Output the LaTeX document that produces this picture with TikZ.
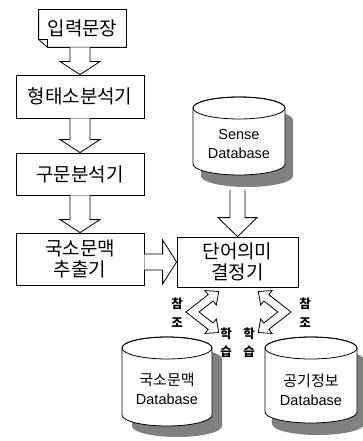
\documentclass[tikz,border=0pt]{standalone}
\usepackage{fontspec}
\usetikzlibrary{calc}
\newfontfamily\kr{Noto Sans CJK KR}
\newfontfamily\lat{Liberation Sans}
\newcommand\vblk[5]{% start, tip, shaft half, head half, head length
  \draw[blk] ($(#2 |- #1)+(-#3,0)$) -- ($(#2)+(-#3,-#5)$) -- ($(#2)+(-#4,-#5)$) -- (#2)
    -- ($(#2)+(#4,-#5)$) -- ($(#2)+(#3,-#5)$) -- ($(#2 |- #1)+(#3,0)$);}
\newcommand\dbcyl[7]{% cx rx ytop ybot ry sx sy
  \fill[black!50,shift={(#6,#7)}] (#1-#2,#3) -- (#1-#2,#4)
    arc[start angle=180,end angle=360,x radius=#2pt,y radius=#5pt] -- (#1+#2,#3)
    arc[start angle=0,end angle=180,x radius=#2pt,y radius=#5pt] -- cycle;
  \draw[cyl] (#1-#2,#3) -- (#1-#2,#4)
    arc[start angle=180,end angle=360,x radius=#2pt,y radius=#5pt] -- (#1+#2,#3)
    arc[start angle=0,end angle=180,x radius=#2pt,y radius=#5pt] -- cycle;
  \draw[line width=0.8pt] (#1,#3) ellipse[x radius=#2pt,y radius=#5pt];}
\begin{document}
\begin{tikzpicture}[x=1pt,y=-1pt,
  box/.style={draw, line width=0.8pt, inner sep=0pt, align=center,
    font=\kr\fontsize{19}{21}\selectfont},
  blk/.style={draw, fill=white, line width=0.8pt, line join=miter},
  cyl/.style={draw, fill=white, line width=0.8pt},
  dbtext/.style={align=center, inner sep=0pt, font=\lat\fontsize{14.5}{19}\selectfont},
  lbl/.style={inner sep=0pt, font=\kr\bfseries\fontsize{12.5}{13}\selectfont},
  chev/.style={draw, fill=white, line width=0.8pt, line join=miter}]
\useasboundingbox (0,0) rectangle (363,441);

% input document box
\node[box, draw=none, minimum width=87pt, minimum height=37pt] (in) at (82.5,28.5) {입력문장};
\draw[line width=0.8pt] (in.north west) -- (in.north east) -- (in.south east)
  -- ($(in.south west)+(9,0)$) -- ($(in.south west)+(0,-8)$) -- cycle;
\draw[line width=0.8pt] ($(in.south west)+(0,-8)$) -- ($(in.south west)+(9,-8)$) -- ($(in.south west)+(9,0)$);

\node[box, minimum width=128pt, minimum height=43pt] (morph) at (80,96.5) {형태소분석기};
\node[box, minimum width=128pt, minimum height=42pt] (parse) at (80,174) {구문분석기};
\node[box, minimum width=128pt, minimum height=52pt] (ext) at (80,259) {국소문맥\\추출기};
\node[box, minimum width=121pt, minimum height=50pt] (wsd) at (237.5,262) {단어의미\\결정기};

% databases
\dbcyl{239}{46}{108}{164}{11}{8}{12}
\node[dbtext] (sense) at (239,144.5) {Sense\\Database};
\dbcyl{167}{45}{348}{415}{11}{10}{11}
\node[dbtext] (kdb) at (167,389) {{\kr\fontsize{15}{19}\selectfont 국소문맥}\\Database};
\dbcyl{311}{46}{348}{412}{11}{7}{12}
\node[dbtext] (cdb) at (311,390) {{\kr\fontsize{15}{19}\selectfont 공기정보}\\Database};
\coordinate (senseb) at (237.5,190);

% block arrows
\vblk{in.south}{morph.north}{10}{20}{13}
\vblk{morph.south}{parse.north}{10}{20}{13}
\vblk{parse.south}{ext.north}{10}{20}{13}
\vblk{senseb}{wsd.north}{7.5}{19.5}{19}
\draw[blk] ($(wsd.west -| ext.east)+(0,-8)$) -- ($(wsd.west)+(-14,-8)$) -- ($(wsd.west)+(-14,-22)$)
  -- (wsd.west) -- ($(wsd.west)+(-14,22)$) -- ($(wsd.west)+(-14,8)$) -- ($(wsd.west -| ext.east)+(0,8)$);

% bent double arrows
\begin{scope}[shift={(192.5,312)}, scale=1.15]
\draw[chev] (-5.68,0) -- (13.60,15.08) -- (10.83,18.62) -- (22.85,17.86) -- (20.69,6.02) -- (17.92,9.56)
  -- (5.68,0) -- (17.92,-9.56) -- (20.69,-6.02) -- (22.85,-17.86) -- (10.83,-18.62) -- (13.60,-15.08) -- cycle;
\end{scope}
\begin{scope}[shift={(284.5,312)}, xscale=-1.15, yscale=1.15]
\draw[chev] (-5.68,0) -- (13.60,15.08) -- (10.83,18.62) -- (22.85,17.86) -- (20.69,6.02) -- (17.92,9.56)
  -- (5.68,0) -- (17.92,-9.56) -- (20.69,-6.02) -- (22.85,-17.86) -- (10.83,-18.62) -- (13.60,-15.08) -- cycle;
\end{scope}

% labels
\node[lbl] (r1a) at (177,304) {참};
\node[lbl] (r1b) at (177,323) {조};
\node[lbl] (l1a) at (226,334) {학};
\node[lbl] (l1b) at (226,352) {습};
\node[lbl] (l2a) at (249,334) {학};
\node[lbl] (l2b) at (249,352) {습};
\node[lbl] (r2a) at (305,304) {참};
\node[lbl] (r2b) at (305,323) {조};
\end{tikzpicture}
\end{document}
